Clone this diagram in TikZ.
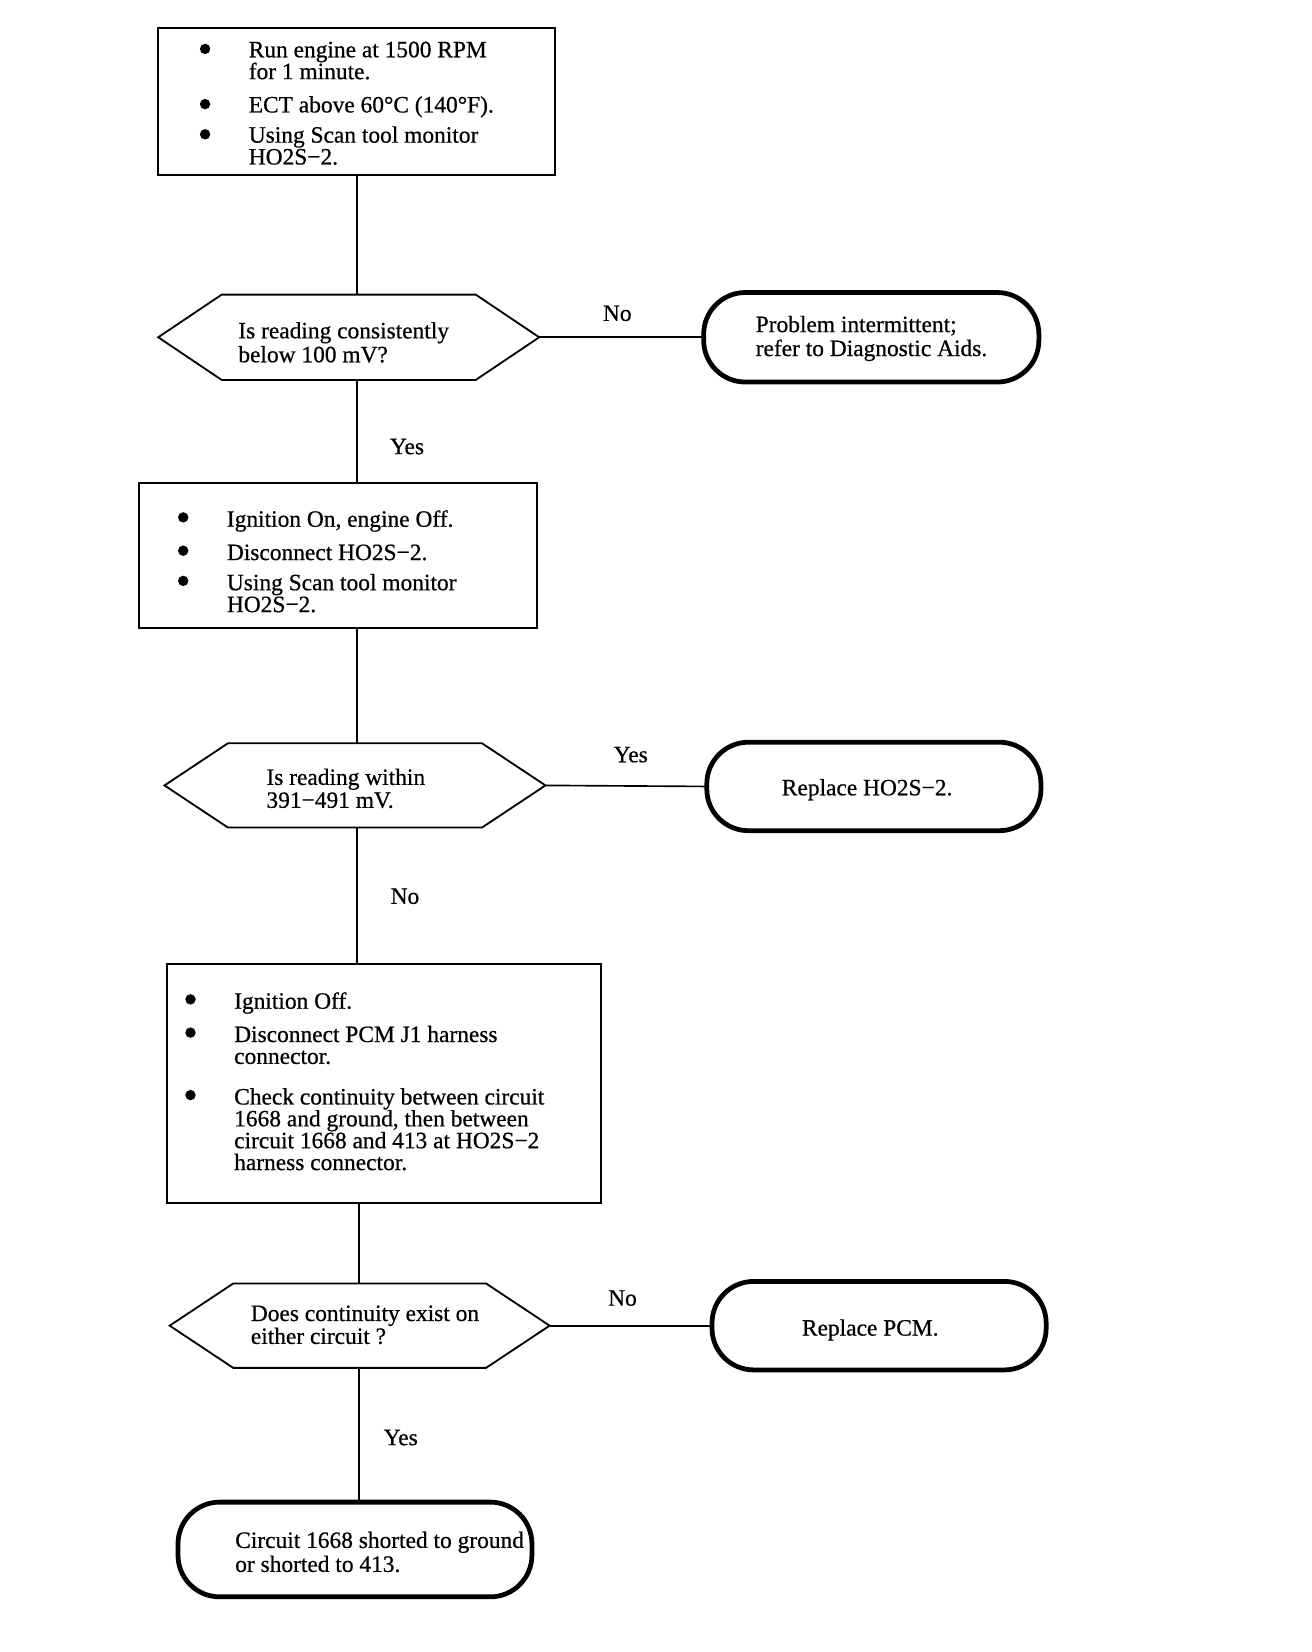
\documentclass[tikz,border=0pt]{standalone}
\usepackage{fontspec}
\setmainfont{Liberation Serif}
\newfontfamily\scanfont{Liberation Serif}[FakeBold=0.6]
\usetikzlibrary{calc}
\begin{document}
\begin{tikzpicture}[x=0.02cm,y=-0.02cm,
  every node/.style={font=\scanfont\fontsize{12.8pt}{12pt}\selectfont, inner sep=0pt, outer sep=0pt},
  procbox/.style={draw, line width=1.1pt, rectangle},
  hexbox/.style={rectangle},
  termbox/.style={draw, line width=2.6pt, rectangle, rounded corners=0.8cm},
  link/.style={line width=0.9pt},
  hexline/.style={line width=1pt},
  txt/.style={anchor=base west},
  ctxt/.style={anchor=base},
  lbl/.style={anchor=center},
  dot/.style={fill=black}
]
\useasboundingbox (0,0) rectangle (1260,1587);
\coordinate (spine) at (343,0);
\coordinate (spineb) at (345,0);

% ---------- Box 1
\node[procbox, minimum width={381*0.02cm}, minimum height={141*0.02cm}] (b1) at (342.5,97.5) {};
\fill[dot] (197,47) circle[radius=0.1cm];
\fill[dot] (197,100) circle[radius=0.1cm];
\fill[dot] (197,129) circle[radius=0.1cm];
\node[txt] (b1a) at (239,55) {Run engine at 1500 RPM};
\node[txt] (b1b) at (239,76) {for 1 minute.};
\node[txt] (b1c) at (239,108) {ECT above 60°C (140°F).};
\node[txt] (b1d) at (239,137) {Using Scan tool monitor};
\node[txt] (b1e) at (239,158) {HO2S−2.};

% ---------- Decision 1
\node[hexbox, minimum width={366*0.02cm}, minimum height={82*0.02cm}] (h1) at (335,324) {};
\draw[hexline] (h1.west) -- ($(h1.north west)+(61,0)$) -- ($(h1.north east)+(-61,0)$) -- (h1.east)
  -- ($(h1.south east)+(-61,0)$) -- ($(h1.south west)+(61,0)$) -- cycle;
\node[txt] (h1a) at (229,325) {Is reading consistently};
\node[txt] (h1b) at (229,348) {below 100 mV?};

\node[termbox, minimum width={322*0.02cm}, minimum height={86*0.02cm}] (t1) at (837,324) {};
\node[txt] (t1a) at (726,319) {Problem intermittent;};
\node[txt] (t1b) at (726,342) {refer to Diagnostic Aids.};

% ---------- Box 2
\node[procbox, minimum width={382*0.02cm}, minimum height={139*0.02cm}] (b2) at (325,533.5) {};
\fill[dot] (176,497) circle[radius=0.1cm];
\fill[dot] (176,529) circle[radius=0.1cm];
\fill[dot] (176,558) circle[radius=0.1cm];
\node[txt] (b2a) at (218,506) {Ignition On, engine Off.};
\node[txt] (b2b) at (218,538) {Disconnect HO2S−2.};
\node[txt] (b2c) at (218,567) {Using Scan tool monitor};
\node[txt] (b2d) at (218,588) {HO2S−2.};

% ---------- Decision 2
\node[hexbox, minimum width={366*0.02cm}, minimum height={81*0.02cm}] (h2) at (341,754.5) {};
\draw[hexline] (h2.west) -- ($(h2.north west)+(61,0)$) -- ($(h2.north east)+(-61,0)$) -- (h2.east)
  -- ($(h2.south east)+(-61,0)$) -- ($(h2.south west)+(61,0)$) -- cycle;
\node[txt] (h2a) at (256,754) {Is reading within};
\node[txt] (h2b) at (256,776) {391−491 mV.};

\node[termbox, minimum width={321*0.02cm}, minimum height={85*0.02cm}] (t2) at (839.5,755.5) {};
\node[ctxt] (t2a) at (833,764) {Replace HO2S−2.};

% ---------- Box 3
\node[procbox, minimum width={417*0.02cm}, minimum height={230*0.02cm}] (b3) at (368.5,1041) {};
\fill[dot] (183,960) circle[radius=0.1cm];
\fill[dot] (183,992) circle[radius=0.1cm];
\fill[dot] (183,1052) circle[radius=0.1cm];
\node[txt] (b3a) at (225,969) {Ignition Off.};
\node[txt] (b3b) at (225,1001) {Disconnect PCM J1 harness};
\node[txt] (b3c) at (225,1022) {connector.};
\node[txt] (b3d) at (225,1061) {Check continuity between circuit};
\node[txt] (b3e) at (225,1082) {1668 and ground, then between};
\node[txt] (b3f) at (225,1103) {circuit 1668 and 413 at HO2S−2};
\node[txt] (b3g) at (225,1124) {harness connector.};

% ---------- Decision 3
\node[hexbox, minimum width={365*0.02cm}, minimum height={81*0.02cm}] (h3) at (345.5,1273.5) {};
\draw[hexline] (h3.west) -- ($(h3.north west)+(61,0)$) -- ($(h3.north east)+(-61,0)$) -- (h3.east)
  -- ($(h3.south east)+(-61,0)$) -- ($(h3.south west)+(61,0)$) -- cycle;
\node[txt] (h3a) at (241,1269) {Does continuity exist on};
\node[txt] (h3b) at (241,1291) {either circuit ?};

\node[termbox, minimum width={321*0.02cm}, minimum height={85*0.02cm}] (t3) at (844.5,1273.5) {};
\node[ctxt] (t3a) at (836,1283) {Replace PCM.};

% ---------- Final terminal
\node[termbox, minimum width={340*0.02cm}, minimum height={91*0.02cm}] (t4) at (341,1488.5) {};
\node[txt] (t4a) at (226,1487) {Circuit 1668 shorted to ground};
\node[txt] (t4b) at (226,1510) {or shorted to 413.};

% ---------- Connectors
\draw[link] (b1.south -| spine) -- (h1.north -| spine);
\draw[link] (h1.east) -- (t1.west);
\draw[link] (h1.south -| spine) -- (b2.north -| spine);
\draw[link] (b2.south -| spine) -- (h2.north -| spine);
\draw[link] (h2.east) -- (t2.west);
\draw[link] (h2.south -| spine) -- (b3.north -| spine);
\draw[link] (b3.south -| spineb) -- (h3.north -| spineb);
\draw[link] (h3.east) -- (t3.west);
\draw[link] (h3.south -| spineb) -- (t4.north -| spineb);

% ---------- Labels
\node[lbl] (l1) at (593,301) {No};
\node[lbl] (l2) at (391,429) {Yes};
\node[lbl] (l3) at (606,725) {Yes};
\node[lbl] (l4) at (389,861) {No};
\node[lbl] (l5) at (598,1247) {No};
\node[lbl] (l6) at (385,1381) {Yes};
\end{tikzpicture}
\end{document}
